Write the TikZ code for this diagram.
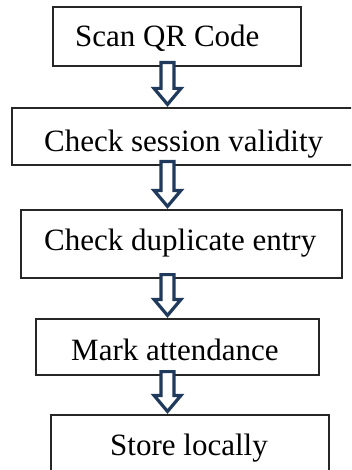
\documentclass[tikz,border=0pt]{standalone}
\usepackage{fontspec}
\setmainfont{Liberation Serif}
\usetikzlibrary{calc}
\definecolor{arrowblue}{HTML}{1F3A5C}
\begin{document}
\begin{tikzpicture}[x=1pt,y=1pt,
  box/.style={draw=black!85,line width=1.2pt,rectangle,inner sep=0pt},
  lbl/.style={anchor=base west,inner sep=0pt,font=\fontsize{31}{36}\selectfont},
  fatarrow/.style={draw=arrowblue,fill=white,line width=3.2pt,line join=miter}]
\useasboundingbox (0,0) rectangle (351,-470);
\begin{scope}
\clip (0,0) rectangle (351,-470);
\node[box,minimum width=248pt,minimum height=59pt] (b1) at (177,-36.5) {};
\node[box,minimum width=343pt,minimum height=57pt] (b2) at (183.5,-136.5) {};
\node[box,minimum width=321pt,minimum height=68pt] (b3) at (181.5,-244) {};
\node[box,minimum width=283pt,minimum height=56pt] (b4) at (177.5,-347) {};
\node[box,minimum width=278pt,minimum height=65pt] (b5) at (190,-447.5) {};
\node[lbl] (t1) at (75,-47) {Scan QR Code};
\node[lbl] (t2) at (44,-152) {Check session validity};
\node[lbl] (t3) at (44,-250) {Check duplicate entry};
\node[lbl] (t4) at (71,-360) {Mark attendance};
\node[lbl] (t5) at (110,-455) {Store locally};
\foreach \a/\b in {b1/b2,b2/b3,b3/b4,b4/b5}{
  \draw[fatarrow] let \p1=(\a.south), \p2=(\b.north) in
    (161,\y1+4) -- (161,\y2+19) -- (154,\y2+19) -- (167.5,\y2+3) --
    (181,\y2+19) -- (174,\y2+19) -- (174,\y1+4) -- cycle;
}
\end{scope}
\end{tikzpicture}
\end{document}
